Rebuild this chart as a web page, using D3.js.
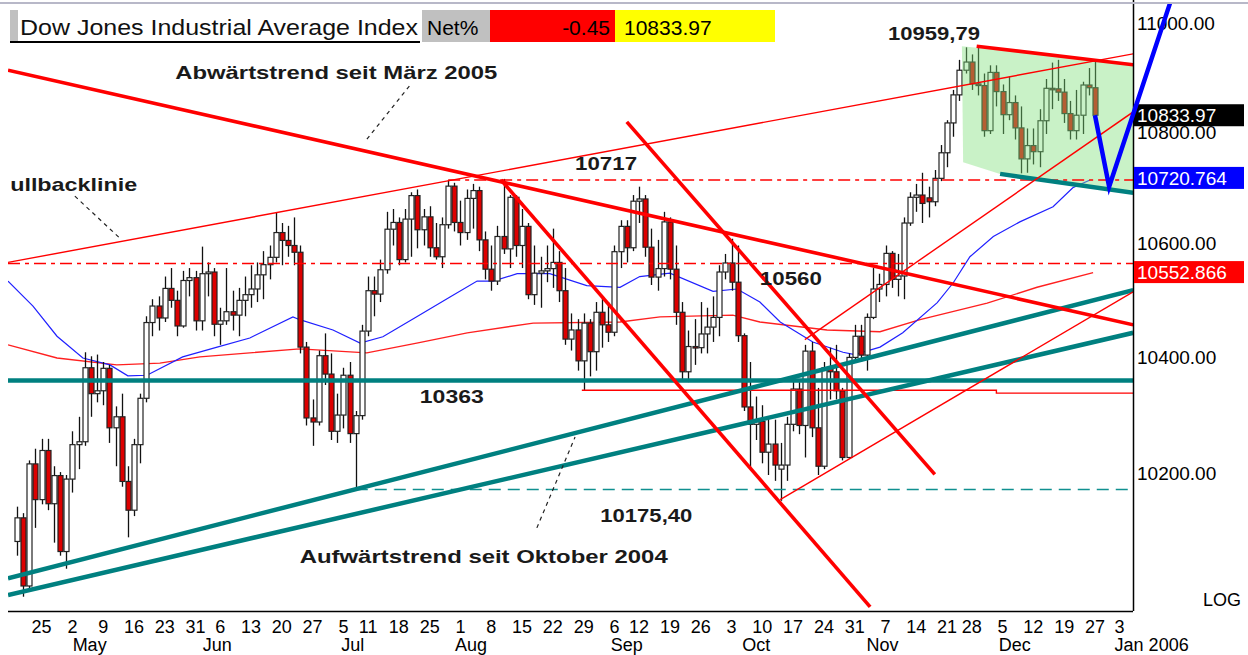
<!DOCTYPE html>
<html><head><meta charset="utf-8">
<script src="https://cdn.jsdelivr.net/npm/d3@7"></script>
<style>body{margin:0;background:#fff;}svg{display:block;font-family:"Liberation Sans",Arial,sans-serif;}</style>
</head><body><svg id="c" width="1248" height="655"></svg>
<script>
// ---------- DATA ----------
const firstIndex = -4; // trading-day index of first candle (Apr 19 2005); Apr 25 = 0
const opens = [10087,10127,10012,10219,
10158,10242,10151,10199,10070,
10193,10252,10257,10385,10340,
10345,10384,10281,10300,10189,
10140,10252,10332,10464,10493,
10472,10524,10503,10458,10538,
10543,
10467,10550,10553,
10461,10467,10483,10477,10503,
10513,10523,10548,10566,10579,
10623,10609,10600,10588,10421,
10298,10291,10406,10374,
10275,
10303,10372,10271,10302,
10449,10520,10514,10557,10629,
10641,10575,10647,10689,10628,
10651,10596,10580,10637,10706,
10641,10623,10684,10698,10610,
10558,10537,10616,10594,10686,
10600,10634,10513,10551,10555,
10559,10570,10520,10435,10451,
10397,10463,10413,
10482,10460,
10447,10589,10634,10596,
10679,10683,10597,10544,10559,
10642,10558,10482,10378,10422,
10420,10444,10456,10473,10553,
10569,10535,10441,10317,10287,
10292,10239,10253,10210,10217,
10287,10348,10285,10414,10281,
10215,10385,10378,10345,10230,
10403,
10440,10407,10473,10523,
10531,10586,10540,10546,10640,
10686,10690,10685,10678,10720,
10766,10820,10871,10916,
10931,10891,10888,10806,10912,
10877,10835,10857,10811,10755,
10779,10768,10824,10883,10882,
10876,10837,10806,10834,10889,
10884];
const highs = [10146,10135,10225,10245,
10262,10262,10215,10205,10200,
10275,10300,10412,10405,10408,
10395,10390,10318,10340,10215,
10262,10340,10475,10505,10510,
10545,10560,10520,10555,10560,
10555,
10598,10570,10560,
10490,10560,10520,10525,10545,
10565,10570,10590,10600,10658,
10640,10635,10650,10600,10430,
10330,10415,10445,10410,
10340,
10385,10395,10310,10460,
10545,10545,10575,10660,10665,
10650,10665,10695,10700,10665,
10670,10640,10650,10717,10712,
10680,10700,10710,10705,10625,
10600,10635,10719,10690,10690,
10665,10640,10600,10580,10600,
10630,10590,10560,10480,10470,
10480,10470,10500,
10510,10500,
10600,10645,10645,10690,
10705,10690,10630,10610,10660,
10650,10600,10500,10450,10470,
10500,10490,10510,10565,10585,
10612,10600,10445,10395,10335,
10320,10300,10295,10255,10300,
10365,10360,10425,10430,10350,
10395,10420,10425,10350,10410,
10460,
10460,10480,10560,10550,
10600,10590,10585,10650,10695,
10710,10730,10705,10735,10780,
10825,10880,10935,10958,
10945,10959.79,10910,10925,10925,
10890,10905,10870,10850,10810,
10810,10845,10900,10930,10935,
10900,10860,10880,10895,10920,
10935];
const lows = [10063,9994,10008,10110,
10150,10140,10085,10063,10041,
10170,10210,10250,10300,10325,
10320,10255,10215,10180,10094,
10130,10220,10325,10440,10450,
10465,10490,10440,10455,10510,
10450,
10450,10510,10440,
10425,10460,10450,10440,10475,
10490,10500,10505,10540,10570,
10565,10580,10565,10410,10285,
10250,10285,10355,10260,
10255,
10280,10255,10175.4,10295,
10440,10475,10500,10550,10600,
10565,10570,10580,10595,10600,
10580,10575,10560,10630,10625,
10600,10610,10630,10590,10540,
10520,10530,10585,10560,10580,
10560,10505,10495,10490,10535,
10525,10500,10425,10415,10380,
10345,10370,10380,
10420,10430,
10440,10560,10570,10590,
10640,10580,10530,10520,10545,
10540,10460,10365,10360,10390,
10410,10410,10430,10440,10540,
10520,10430,10310,10214,10260,
10220,10200,10190,10156,10190,
10275,10270,10230,10265,10200,
10210,10330,10330,10225,10228,
10400,
10395,10380,10470,10500,
10510,10525,10510,10505,10635,
10660,10640,10650,10670,10715,
10740,10795,10860,10910,
10880,10870,10795,10800,10850,
10800,10825,10790,10729,10730,
10745,10740,10800,10845,10860,
10820,10790,10790,10800,10870,
10830];
const closes = [10127,10012,10219,10158,
10242,10151,10199,10070,10193,
10252,10257,10385,10340,10345,
10384,10281,10300,10189,10140,
10252,10332,10464,10493,10472,
10524,10503,10458,10538,10543,
10467,
10550,10553,10461,
10467,10483,10477,10503,10513,
10523,10548,10566,10579,10623,
10609,10600,10588,10421,10298,
10291,10406,10374,10275,
10303,
10372,10271,10302,10449,
10520,10514,10557,10629,10641,
10575,10647,10689,10628,10651,
10596,10580,10637,10706,10641,
10623,10684,10698,10610,10558,
10537,10616,10594,10686,10600,
10634,10513,10551,10555,10559,
10570,10520,10435,10451,10397,
10463,10413,10482,
10460,10447,
10589,10634,10596,10679,
10683,10597,10544,10559,10642,
10558,10482,10378,10422,10420,
10444,10456,10473,10553,10569,
10535,10441,10317,10287,10292,
10239,10253,10217,10217,10287,
10348,10285,10414,10281,10215,
10385,10378,10345,10230,10403,
10440,
10407,10473,10523,10531,
10586,10540,10546,10640,10686,
10690,10675,10678,10720,10766,
10820,10871,10916,10931,
10891,10888,10806,10912,10877,
10835,10857,10811,10755,10779,
10768,10824,10883,10882,10876,
10837,10806,10834,10889,10884,
10833.97];

// moving averages, [dayIndex, value]
const ma50 = [[-5.45,10537],[-1.4,10493],[2.5,10440],[6.7,10402],[11.1,10390],[14,10371],[17.1,10372],[22.9,10404],[28.5,10421],[33.8,10437],[40.8,10474],[41.9,10469],[47.3,10451],[51.7,10428],[55.4,10439],[60.9,10474],[66.3,10509],[70.7,10537],[73.3,10537],[77.2,10550],[82.5,10550],[88.5,10529],[93.9,10526],[97.1,10545],[102,10551],[109,10519],[112.9,10523],[116.6,10500],[119.9,10465],[125.2,10430],[130.1,10412],[132,10408],[136.1,10421],[139.8,10446],[145.4,10499],[148,10534],[150.7,10580],[154.5,10616],[158.8,10642],[164.2,10669],[167.4,10703],[170.2,10717]];
const ma200 = [[-5.45,10425],[2.5,10402],[12.2,10390],[19.2,10393],[25.7,10404],[33.8,10411],[41.9,10418],[52.8,10411],[60.9,10428],[69.1,10446],[79.8,10463],[93.9,10465],[100.4,10474],[112.2,10477],[116.6,10465],[127.5,10451],[136.1,10448],[142.6,10469],[153.5,10498],[161.6,10526],[170.7,10552]];

// price levels
const levelResist = 10568;     // dash-dot "10560"
const levelHigh = 10717;       // dash-dot "10717"
const levelSupport = 10363;    // teal "10363"
const levelLow = 10175.40;     // teal dashed "10175,40"
const levelAugLow = [[87.7,10346],[155,10346],[155,10341],[177.2,10341]];

// trend lines [[i,v],[i,v]]
const thickRed = [
  [[-5.45,10916],[177.2,10460]],      // Abwärtstrend seit März 2005
  [[74.6,10717],[134.5,9977]],        // channel A
  [[95.0,10822],[145.0,10201]],       // channel B
  [[151.8,10960],[177.2,10926]]       // triangle top
];
const thinRed = [
  [[-5.45,10570],[177.2,10946]],      // Pullbacklinie
  [[119.9,10158],[177.2,10518]],
  [[123.9,10434],[177.2,10840]]
];
const tealThick = [
  [[-5.45,10025],[177.2,10521]],
  [[-5.45,9997],[177.2,10446]],
  [[155.6,10728],[177.2,10694]]
];
const greenZone = [[149.4,10960],[177.2,10929],[177.2,10694],[155.6,10728],[149.6,10749]];
const blueProjection = [[171,10833.97],[173.3,10705],[183.2,11040]];
const leaders = [
  [[59.7,10887],[52.7,10789]],
  [[5.4,10688],[12.7,10613]],
  [[80.4,10110],[86.6,10265]]
];
const notes = [
  {t:"Abwärtstrend seit März 2005", i:21.7, v:10900, w:322},
  {t:"ullbacklinie", i:-5.1, v:10697, w:127},
  {t:"10717", i:86.6, v:10735, w:62},
  {t:"10560", i:116.6, v:10530, w:62},
  {t:"10363", i:61.4, v:10324, w:64},
  {t:"10175,40", i:90.7, v:10120, w:92},
  {t:"Aufwärtstrend seit Oktober 2004", i:41.9, v:10051, w:368},
  {t:"10959,79", i:137.4, v:10972, w:92}
];
const yTicks = [11000,10800,10600,10400,10200];
const weekTicks = [[0,"25"],[5,"2"],[10,"9"],[15,"16"],[20,"23"],[25,"31"],[29,"6"],[34,"13"],[39,"20"],[44,"27"],[49,"5"],[53,"11"],[58,"18"],[63,"25"],[68,"1"],[73,"8"],[78,"15"],[83,"22"],[88,"29"],[93,"6"],[97,"12"],[102,"19"],[107,"26"],[112,"3"],[117,"10"],[122,"17"],[127,"24"],[132,"31"],[137,"7"],[142,"14"],[147,"21"],[151,"28"],[156,"5"],[161,"12"],[166,"19"],[171,"27"],[175,"3"]];
const monthTicks = [[7.8,"May"],[28.5,"Jun"],[50.5,"Jul"],[69.7,"Aug"],[95,"Sep"],[116,"Oct"],[136.5,"Nov"],[158,"Dec"]];
const yearLabel = [175,"Jan 2006"];
const header = {title:"Dow Jones Industrial Average Index", netLabel:"Net%", net:"-0.45", last:"10833.97"};
const priceTags = [{v:10833.97, t:"10833.97", c:"#000"},{v:10720.764, t:"10720.764", c:"#0000ff"},{v:10552.866, t:"10552.866", c:"#ff0000"}];

// ---------- SCALES ----------
const svg = d3.select("#c");
const plotL = 8, plotR = 1133, plotT = 0, plotB = 611;
const x = d3.scaleLinear().domain([0,171]).range([41.6, 41.6+171*6.16]);
const y = d3.scaleLog().domain([10200,11000]).range([475,24.5]);
const line = d3.line().x(d=>x(d[0])).y(d=>y(d[1]));

svg.append("defs").append("clipPath").attr("id","pc")
  .append("rect").attr("x",plotL).attr("y",plotT).attr("width",plotR-plotL).attr("height",plotB-plotT);

const g = svg.append("g").attr("clip-path","url(#pc)");

// MAs
g.append("path").attr("d",line(ma200)).attr("fill","none").attr("stroke","#ff2020").attr("stroke-width",1.4);
g.append("path").attr("d",line(ma50)).attr("fill","none").attr("stroke","#2020ff").attr("stroke-width",1.2);

// candles
const cg = g.append("g");
closes.forEach((c,k)=>{
  const i = firstIndex + k;
  const cx = Math.round(x(i));
  const o = opens[k];
  cg.append("line").attr("x1",cx+0.5).attr("x2",cx+0.5).attr("y1",y(highs[k])).attr("y2",y(lows[k]))
    .attr("stroke","#111").attr("stroke-width",1.3);
  const top = y(Math.max(o,c)), bot = y(Math.min(o,c));
  cg.append("rect").attr("x",cx-2).attr("y",top).attr("width",5).attr("height",Math.max(1.5,bot-top))
    .attr("fill", c>=o ? "#fff" : "#dd0000").attr("stroke","#222").attr("stroke-width",1.2);
});

// green zone
g.append("path").attr("d",line(greenZone)+"Z").attr("fill","#7fe07a").attr("fill-opacity",0.42);

// horizontal levels
const hl = (v,i0,col,w,dash)=>g.append("line").attr("x1",i0===null?plotL:x(i0)).attr("x2",plotR)
  .attr("y1",y(v)).attr("y2",y(v)).attr("stroke",col).attr("stroke-width",w).attr("stroke-dasharray",dash||null);
hl(levelResist,null,"#ff0000",1.6,"12,5,4,5");
hl(levelHigh,66,"#ff0000",1.6,"12,5,4,5");
hl(levelLow,51,"#109090",1.5,"12,7");
g.append("path").attr("d",line(levelAugLow)).attr("fill","none").attr("stroke","#ff0000").attr("stroke-width",1.4);
hl(levelSupport,null,"#008080",4.5);

// trend lines
tealThick.forEach(s=>g.append("path").attr("d",line(s)).attr("stroke","#008080").attr("stroke-width",4.5).attr("fill","none"));
thinRed.forEach(s=>g.append("path").attr("d",line(s)).attr("stroke","#ff0000").attr("stroke-width",1.4).attr("fill","none"));
thickRed.forEach(s=>g.append("path").attr("d",line(s)).attr("stroke","#ff0000").attr("stroke-width",3.6).attr("fill","none"));

// leaders
leaders.forEach(s=>svg.append("path").attr("d",line(s)).attr("stroke","#222").attr("stroke-width",1.2).attr("stroke-dasharray","4,4").attr("fill","none"));

// notes
notes.forEach(n=>svg.append("text").attr("x",x(n.i)).attr("y",y(n.v)).text(n.t)
  .attr("font-size",19).attr("font-weight","bold").attr("fill","#1a1a1a")
  .attr("textLength",n.w).attr("lengthAdjust","spacingAndGlyphs"));

// axes
svg.append("line").attr("x1",plotR+0.5).attr("x2",plotR+0.5).attr("y1",0).attr("y2",plotB).attr("stroke","#000").attr("stroke-width",1.5);
svg.append("line").attr("x1",plotL).attr("x2",plotR).attr("y1",plotB+0.5).attr("y2",plotB+0.5).attr("stroke","#000").attr("stroke-width",1.5);
yTicks.forEach(v=>svg.append("text").attr("x",1137).attr("y",y(v)+5).text(d3.format(".2f")(v))
  .attr("font-size",19).attr("fill","#000"));
svg.append("text").attr("x",1241).attr("y",606).attr("text-anchor","end").text("LOG").attr("font-size",18);
weekTicks.forEach(([i,t])=>svg.append("text").attr("x",x(i)).attr("y",633).attr("text-anchor","middle").text(t).attr("font-size",18).attr("fill","#000"));
monthTicks.forEach(([i,t])=>svg.append("text").attr("x",x(i)).attr("y",651).attr("text-anchor","middle").text(t).attr("font-size",18).attr("fill","#000"));
svg.append("text").attr("x",x(yearLabel[0])-5).attr("y",651).text(yearLabel[1]).attr("font-size",18);

// price tags
priceTags.forEach(p=>{
  const yy = y(p.v);
  svg.append("rect").attr("x",plotR+1).attr("y",yy-11).attr("width",110).attr("height",22).attr("fill",p.c);
  svg.append("text").attr("x",1137).attr("y",yy+7).text(p.t).attr("font-size",19).attr("fill","#fff");
});

// blue projection
svg.append("path").attr("d",line(blueProjection)).attr("fill","none").attr("stroke","#0000ff").attr("stroke-width",4.5).attr("stroke-linejoin","miter");

// header
svg.append("rect").attr("x",0).attr("y",2).attr("width",1248).attr("height",2).attr("fill","#b8b8c8");
svg.append("rect").attr("x",10).attr("y",10).attr("width",410).attr("height",32).attr("fill","#fff");
svg.append("rect").attr("x",10).attr("y",10).attr("width",8).attr("height",32).attr("fill","#c0c0c0");
svg.append("rect").attr("x",10).attr("y",41).attr("width",410).attr("height",2).attr("fill","#000");
svg.append("text").attr("x",20).attr("y",35).text(header.title).attr("font-size",22).attr("fill","#111").attr("textLength",398).attr("lengthAdjust","spacingAndGlyphs");
svg.append("rect").attr("x",422).attr("y",10).attr("width",68).attr("height",32).attr("fill","#c0c0c0");
svg.append("text").attr("x",427).attr("y",35).text(header.netLabel).attr("font-size",21);
svg.append("rect").attr("x",490).attr("y",10).attr("width",125).attr("height",32).attr("fill","#ff0000");
svg.append("text").attr("x",610).attr("y",35).attr("text-anchor","end").text(header.net).attr("font-size",21);
svg.append("rect").attr("x",615).attr("y",10).attr("width",160).attr("height",32).attr("fill","#ffff00");
svg.append("text").attr("x",624).attr("y",35).text(header.last).attr("font-size",21);
</script></body></html>
